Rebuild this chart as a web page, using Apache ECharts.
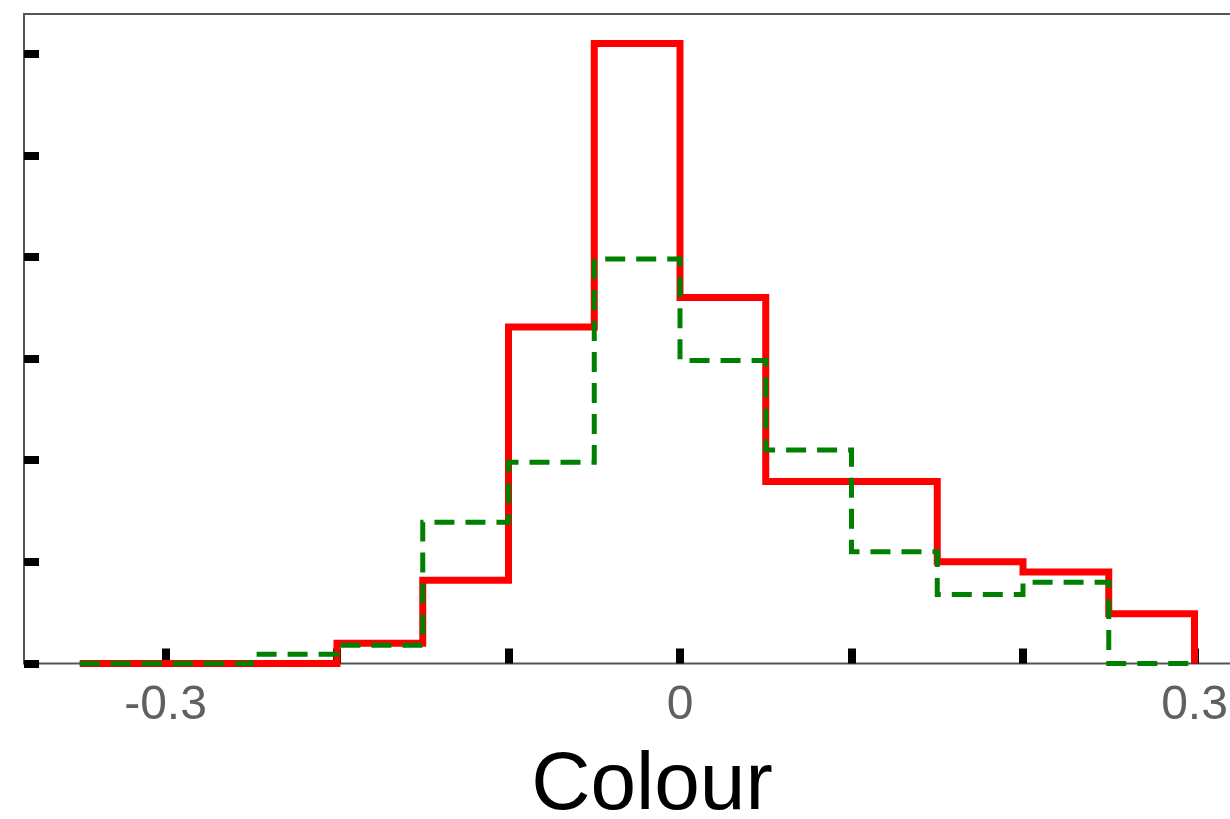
<!DOCTYPE html>
<html>
<head>
<meta charset="utf-8">
<script src="https://cdn.jsdelivr.net/npm/echarts@6/dist/echarts.min.js"></script>
<style>
html,body{margin:0;padding:0;background:#fff;}
#chart{width:1230px;height:819px;}
</style>
</head>
<body>
<div id="chart"></div>
<script>
// Histogram bin edges (Colour)
const binEdges = [-0.35, -0.3, -0.25, -0.2, -0.15, -0.1, -0.05, 0, 0.05, 0.1, 0.15, 0.2, 0.25, 0.3];
// Bin heights (one per bin)
const redCounts   = [0, 0, 0, 0.20, 0.82, 3.31, 6.10, 3.60, 1.79, 1.79, 1.00, 0.90, 0.49];
const greenCounts = [0, 0, 0.09, 0.18, 1.39, 1.98, 3.98, 2.98, 2.10, 1.10, 0.68, 0.80, 0];
// Tick labels shown on the x axis
const xTickLabels = [-0.3, 0, 0.3];
// Unlabelled y ticks
const yTicks = [0, 1, 2, 3, 4, 5, 6];
const xName = 'Colour';

function stepData(counts) {
  return binEdges.map((e, i) => [e, i < counts.length ? counts[i] : 0]);
}

const yMax = 6.39;
const chart = echarts.init(document.getElementById('chart'), null, {renderer: 'canvas'});
const font = 'Liberation Sans, Arial, Helvetica, sans-serif';

chart.setOption({
  animation: false,
  backgroundColor: '#fff',
  grid: [
    {left: 24, width: 1256, top: 14, height: 649.5, show: true, borderColor: '#555', borderWidth: 2,
     backgroundColor: 'transparent', outerBoundsMode: 'none', containLabel: false},
    {left: -6, width: 1372, top: 14, height: 649.5, outerBoundsMode: 'none', containLabel: false}
  ],
  xAxis: [
    {
      gridIndex: 0, type: 'value', min: -0.3825, max: 0.35,
      axisLine: {show: false, onZero: false}, axisTick: {show: false}, axisLabel: {show: false}, splitLine: {show: false},
      name: xName, nameLocation: 'middle', nameGap: 82,
      nameTextStyle: {fontFamily: font, fontSize: 82, color: '#000'}
    },
    {
      gridIndex: 1, type: 'value', min: -0.4, max: 0.4, interval: 0.1,
      axisLine: {show: false, onZero: false},
      axisTick: {show: true, inside: true, length: 15, lineStyle: {color: '#000', width: 8}},
      axisLabel: {
        show: true, margin: 18, color: '#606060', fontFamily: font, fontSize: 48,
        formatter: function (v) {
          for (const t of xTickLabels) { if (Math.abs(v - t) < 1e-6) return String(t); }
          return '';
        }
      },
      splitLine: {show: false}
    }
  ],
  yAxis: [
    {
      gridIndex: 0, type: 'value', min: 0, max: yMax, position: 'left',
      axisLine: {show: false, onZero: false},
      axisTick: {show: true, inside: true, length: 15, customValues: yTicks, lineStyle: {color: '#000', width: 8}},
      axisLabel: {show: false}, splitLine: {show: false}
    },
    {
      gridIndex: 1, type: 'value', min: 0, max: yMax, show: false, splitLine: {show: false},
      axisLine: {onZero: false}
    }
  ],
  series: [
    {
      type: 'line', xAxisIndex: 1, yAxisIndex: 1, step: 'end', symbol: 'none',
      data: stepData(redCounts), clip: true,
      lineStyle: {color: '#ff0000', width: 7, join: 'miter', cap: 'butt'}
    },
    {
      type: 'line', xAxisIndex: 1, yAxisIndex: 1, step: 'end', symbol: 'none',
      data: stepData(greenCounts), clip: true,
      lineStyle: {color: '#008000', width: 5, type: [20, 11], join: 'miter', cap: 'butt'}
    }
  ]
});
</script>
</body>
</html>
